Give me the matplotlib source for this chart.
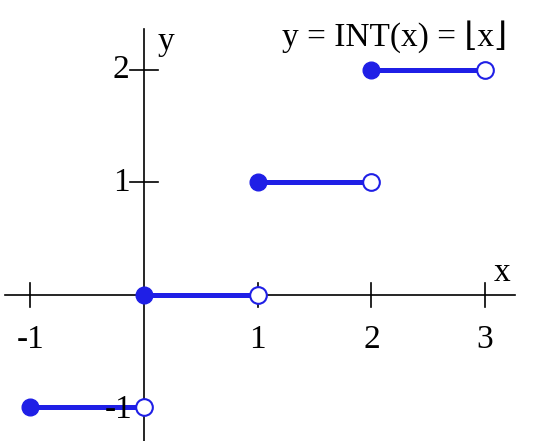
import matplotlib.pyplot as plt

# floor function steps
starts = [-1, 0, 1, 2]
values = [-1, 0, 1, 2]
x_ticks = [-1, 1, 2, 3]
y_ticks = [1, 2]
blue = "#1f1fe6"

plt.rcParams["font.family"] = ["Liberation Serif", "DejaVu Serif"]
fig = plt.figure(figsize=(5.5, 4.41), dpi=100)
ax = fig.add_axes([0, 0, 1, 1])
ax.set_xlim(-1.267, 3.571)
ax.set_ylim(-1.298, 2.622)
ax.axis("off")

ax.plot([-1.22, 3.26], [0, 0], color="black", lw=1.2)
ax.plot([0, 0], [-1.3, 2.36], color="black", lw=1.2)
for t in x_ticks:
    ax.plot([t, t], [-0.11, 0.11], color="black", lw=1.2)
    ax.text(t, -0.4, str(t), ha="center", va="center", fontsize=24)
for t in y_ticks:
    ax.plot([-0.12, 0.12], [t, t], color="black", lw=1.2)
    ax.text(-0.2, t, str(t), ha="center", va="center", fontsize=24)
ax.text(-0.22, -1.02, "-1", ha="center", va="center", fontsize=24)
ax.text(3.15, 0.2, "x", ha="center", va="center", fontsize=24)
ax.text(0.19, 2.25, "y", ha="center", va="center", fontsize=24)
ax.text(2.2, 2.3, "y = INT(x) = \u230ax\u230b", ha="center", va="center", fontsize=24)

for s, v in zip(starts, values):
    ax.plot([s, s + 1], [v, v], color=blue, lw=3.6, solid_capstyle="butt", zorder=2)
    ax.plot(s, v, "o", ms=12, color=blue, zorder=3)
    ax.plot(s + 1, v, "o", ms=12, mfc="white", mec=blue, mew=1.5, zorder=3)

fig.savefig("out.png", dpi=100)
